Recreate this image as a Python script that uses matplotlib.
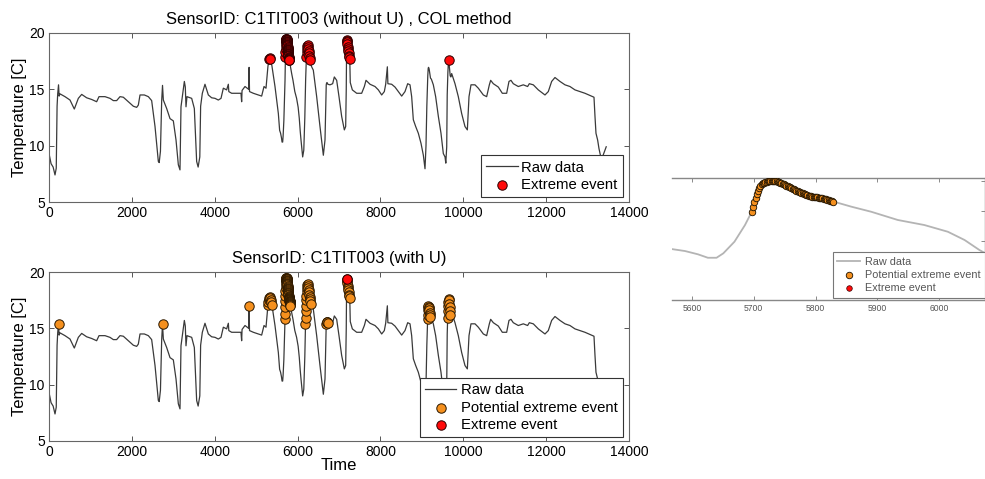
import numpy as np
import matplotlib
matplotlib.use("Agg")
import matplotlib.pyplot as plt

plt.rcParams['font.family'] = ['Liberation Sans', 'DejaVu Sans']

# ---------------- data ----------------
# raw temperature series (base readings, outside the event clusters)
raw_t = [0, 50, 100, 145, 175, 195, 210, 245, 265, 386, 507, 611, 708, 789, 909,
         1030, 1150, 1207, 1352, 1472, 1553, 1633, 1714, 1794, 1915, 2036, 2116,
         2156, 2197, 2301, 2398, 2478, 2559, 2639, 2660, 2690, 2720, 2760, 2840,
         2921, 3001, 3066, 3122, 3162, 3186, 3218, 3267, 3290, 3307, 3330, 3444,
         3508, 3564, 3600, 3640, 3660, 3701, 3765, 3846, 3926, 4007, 4087, 4152,
         4208, 4288, 4329, 4340, 4409, 4530, 4634, 4650, 4660, 4731, 4787, 4820,
         4840, 4932, 5053, 5133, 5190, 5238, 5270, 5400, 5455, 5536, 5567, 5589,
         5610, 5626, 5640, 5651, 5669, 5686, 5858, 5890, 5933, 5976, 6014, 6041,
         6065, 6083, 6123, 6150, 6175, 6340, 6380, 6461, 6541, 6622, 6662, 6783,
         6847, 6887, 6944, 7000, 7064, 7129, 7161, 7175, 7272, 7322, 7427, 7547,
         7612, 7652, 7749, 7869, 7950, 8030, 8094, 8127, 8167, 8180, 8271, 8352,
         8432, 8513, 8593, 8658, 8714, 8754, 8794, 8851, 8915, 8980, 9036, 9076,
         9100, 9120, 9230, 9277, 9333, 9398, 9462, 9518, 9559, 9578, 9600, 9612,
         9700, 9720, 9800, 9880, 9961, 10041, 10098, 10138, 10186, 10283, 10363,
         10484, 10564, 10629, 10661, 10725, 10846, 10942, 11047, 11103, 11151,
         11207, 11328, 11449, 11553, 11594, 11690, 11811, 11972, 12052, 12133,
         12213, 12334, 12455, 12575, 12696, 12817, 12937, 13058, 13155, 13179,
         13203, 13243, 13275, 13330, 13350, 13450]
raw_T = [9.3, 8.4, 8.1, 7.4, 8.0, 13.5, 14.6, 14.4, 14.6, 14.35, 14.05, 13.25, 14.2,
         14.55, 14.25, 14.1, 13.9, 14.35, 14.35, 14.2, 14.0, 14.0, 14.35, 14.3, 13.9,
         13.5, 13.4, 13.6, 14.5, 14.5, 14.35, 14.0, 11.7, 8.6, 8.5, 9.5, 14.0, 14.05,
         13.3, 12.4, 12.2, 10.5, 8.3, 7.85, 13.45, 14.35, 15.7, 15.2, 13.45, 14.35,
         14.2, 13.3, 8.6, 8.1, 9.0, 13.5, 14.65, 15.45, 14.5, 14.25, 14.2, 14.05,
         14.2, 15.1, 14.95, 15.45, 14.8, 14.65, 14.65, 14.65, 13.9, 14.9, 15.25,
         15.1, 15.0, 14.8, 14.65, 14.5, 14.4, 15.25, 15.1, 16.5, 16.6, 15.25, 12.85,
         11.36, 11.12, 10.73, 10.32, 10.32, 10.85, 12.23, 14.21, 16.39, 15.79, 14.81,
         14.21, 13.41, 12.43, 11.24, 10.5, 9.0, 9.6, 12.5, 17.0, 16.7, 14.35, 11.7,
         9.15, 10.5, 15.4, 15.5, 16.1, 15.8, 14.35, 12.6, 11.4, 11.7, 15.0, 15.6,
         14.95, 14.65, 14.65, 15.25, 15.8, 15.45, 15.25, 14.95, 14.5, 14.8, 15.45,
         17.0, 15.5, 15.45, 15.2, 14.8, 14.4, 14.8, 15.5, 15.4, 14.35, 12.3, 11.7,
         11.1, 10.2, 9.15, 7.95, 10.0, 13.5, 15.9, 15.4, 14.35, 12.6, 11.1, 9.3, 9.0,
         8.45, 9.9, 14.5, 16.1, 16.4, 15.5, 14.35, 12.85, 11.7, 11.4, 14.35, 15.4,
         15.4, 15.1, 14.5, 14.35, 15.4, 15.8, 15.5, 15.2, 14.65, 14.65, 15.7, 15.8,
         15.5, 15.25, 15.4, 15.25, 15.5, 15.4, 14.95, 14.5, 14.8, 15.7, 16.05, 15.7,
         15.4, 15.25, 14.95, 14.8, 14.65, 14.45, 14.3, 12.6, 11.1, 10.5, 9.75, 8.8,
         8.9, 9.9]

# potential extreme events (points of the raw series flagged by the method)
pot_t = [230, 2740, 4830,
         5285, 5295, 5305, 5318, 5330, 5342, 5355, 5368, 5380,
         5697, 5699, 5701, 5703, 5705, 5707, 5709, 5711, 5713, 5715, 5717, 5719,
         5721, 5723, 5725, 5727, 5729, 5731, 5733, 5735, 5737, 5739, 5741, 5743,
         5745, 5747, 5749, 5751, 5753, 5755, 5757, 5759, 5761, 5763, 5765, 5767,
         5769, 5771, 5773, 5775, 5777, 5779, 5781, 5783, 5785, 5787, 5789, 5791,
         5793, 5795, 5797, 5799, 5801, 5803, 5805, 5807, 5809, 5811, 5813, 5815,
         5817, 5819, 5821, 5823, 5825, 5827, 5829,
         6190, 6195, 6200, 6205, 6210, 6215, 6220, 6228, 6236, 6244, 6252, 6260,
         6268, 6276, 6284, 6292, 6300, 6310, 6320,
         6692, 6700, 6710, 6720, 6730,
         7185, 7192, 7198, 7205, 7212, 7220, 7228, 7236, 7244, 7252, 7260,
         9138, 9143, 9148, 9153, 9160, 9168, 9176, 9184, 9192, 9200, 9208,
         9622, 9628, 9634, 9640, 9646, 9652, 9660, 9668, 9676, 9684]
pot_T = [15.4, 15.35, 16.95,
         17.05, 17.3, 17.5, 17.65, 17.75, 17.7, 17.5, 17.3, 17.1,
         15.8, 16.3, 16.9, 17.4, 17.9, 18.3, 18.6, 18.85, 19.05, 19.17, 19.25, 19.32,
         19.37, 19.4, 19.42, 19.44, 19.45, 19.45, 19.44, 19.42, 19.39, 19.35, 19.3, 19.24,
         19.17, 19.1, 19.03, 18.97, 18.9, 18.84, 18.77, 18.69, 18.6, 18.52, 18.45, 18.37,
         18.3, 18.22, 18.16, 18.1, 18.03, 17.97, 17.92, 17.86, 17.8, 17.76, 17.72, 17.68,
         17.63, 17.6, 17.56, 17.53, 17.51, 17.49, 17.47, 17.44, 17.41, 17.38, 17.34, 17.3,
         17.26, 17.22, 17.17, 17.12, 17.08, 17.03, 17.0,
         15.4, 15.9, 16.5, 17.0, 17.5, 17.9, 18.3, 18.6, 18.85, 18.9, 18.8, 18.6,
         18.4, 18.2, 18.0, 17.8, 17.6, 17.4, 17.2,
         15.4, 15.55, 15.6, 15.55, 15.45,
         19.4, 19.3, 19.2, 19.0, 18.8, 18.6, 18.4, 18.2, 18.0, 17.85, 17.7,
         15.8, 16.2, 16.6, 16.85, 16.95, 16.9, 16.8, 16.6, 16.4, 16.2, 16.0,
         15.9, 16.5, 17.0, 17.35, 17.6, 17.5, 17.2, 16.9, 16.5, 16.2]

# extreme events when uncertainty U is used
ext_u_t = [7185]
ext_u_T = [19.4]
# without U every flagged point above this level counts as extreme
extreme_level = 17.55

x_ticks = [0, 2000, 4000, 6000, 8000, 10000, 12000, 14000]
y_ticks = [5, 10, 15, 20]
inset_x_ticks = [5600, 5700, 5800, 5900, 6000]
inset_y_ticks = [8.7, 12.27, 15.83, 19.4]

title_top = "SensorID: C1TIT003 (without U) , COL method"
title_bot = "SensorID: C1TIT003 (with U)"

# ---------------- derived series ----------------
line_t = np.array(raw_t + pot_t, dtype=float)
line_T = np.array(raw_T + pot_T, dtype=float)
order = np.argsort(line_t, kind='stable')
line_t, line_T = line_t[order], line_T[order]
pt = np.array(pot_t, dtype=float)
pT = np.array(pot_T, dtype=float)
sel = pT >= extreme_level
ext_t, ext_T = pt[sel], pT[sel]

# ---------------- figure ----------------
W, H = 985, 479
fig = plt.figure(figsize=(W / 100, H / 100), dpi=100)


def rect(l, t, r, b):
    return [l / W, 1 - b / H, (r - l) / W, (b - t) / H]


ax1 = fig.add_axes(rect(49, 33, 629, 202))
ax2 = fig.add_axes(rect(49, 272, 629, 441))
ax3 = fig.add_axes(rect(672, 178, 985, 300))

RED = '#ff0a0a'
ORANGE = '#f5901e'
LINE = '#3a3a3a'
MS = 46


def style(ax):
    ax.set_xlim(0, 14000)
    ax.set_ylim(5, 20)
    ax.set_xticks(x_ticks)
    ax.set_yticks(y_ticks)
    ax.tick_params(direction='in', top=True, right=True, length=3.5, width=0.7,
                   labelsize=10, pad=3, color='#555555', labelcolor='black')
    for s in ax.spines.values():
        s.set_color('#666666')
        s.set_linewidth(0.8)
    ax.set_ylabel('Temperature [C]', fontsize=12, labelpad=1.5)


# top panel
style(ax1)
l1, = ax1.plot(line_t, line_T, color=LINE, lw=0.9, zorder=2)
s1 = ax1.scatter(ext_t, ext_T, s=MS, c=RED, edgecolors='#2a0000', linewidths=0.7, zorder=3)
ax1.set_title(title_top, fontsize=12, pad=6.5)
leg1 = ax1.legend([l1, s1], ['Raw data', 'Extreme event'], loc='lower right',
                  bbox_to_anchor=(1 - 6 / 580, 5 / 169), borderaxespad=0,
                  fontsize=10.7, frameon=True, fancybox=False, framealpha=1,
                  edgecolor='#333333', handlelength=2.2, handletextpad=0.2,
                  borderpad=0.35, labelspacing=0.22, scatterpoints=1)
leg1.get_frame().set_linewidth(0.8)

# bottom panel
style(ax2)
l2, = ax2.plot(line_t, line_T, color=LINE, lw=0.9, zorder=2)
s2 = ax2.scatter(pt, pT, s=MS, c=ORANGE, edgecolors='#2a1800', linewidths=0.7, zorder=3)
s3 = ax2.scatter(ext_u_t, ext_u_T, s=MS, c=RED, edgecolors='#2a0000', linewidths=0.7, zorder=4)
ax2.set_title(title_bot, fontsize=12, pad=6.5)
ax2.set_xlabel('Time', fontsize=12, labelpad=-1)
leg2 = ax2.legend([l2, s2, s3], ['Raw data', 'Potential extreme event', 'Extreme event'],
                  loc='lower right', bbox_to_anchor=(1 - 6 / 580, 4 / 169), borderaxespad=0,
                  fontsize=10.7, frameon=True, fancybox=False, framealpha=1,
                  edgecolor='#333333', handlelength=2.1, handletextpad=0.3,
                  borderpad=0.35, labelspacing=0.22, scatterpoints=1)
leg2.get_frame().set_linewidth(0.8)

# zoomed inset
ax3.set_xlim(5568, 6074)
ax3.set_ylim(5.3, 19.8)
ax3.set_xticks(inset_x_ticks)
ax3.set_yticks(inset_y_ticks)
ax3.tick_params(axis='x', direction='in', top=True, bottom=True, length=3, width=0.6,
                labelsize=6.2, pad=3, color='#777777', labelcolor='#555555')
ax3.tick_params(axis='y', direction='in', left=False, right=True, labelleft=False,
                labelright=False, length=3, width=0.6, color='#777777')
ax3.spines['left'].set_visible(False)
for k in ['top', 'bottom', 'right']:
    ax3.spines[k].set_color('#888888')
    ax3.spines[k].set_linewidth(1.0)
l3, = ax3.plot(line_t, line_T, color='#b4b4b4', lw=1.3, zorder=2)
s4 = ax3.scatter(pt, pT, s=22, c=ORANGE, edgecolors='#1a1000', linewidths=0.6, zorder=3)
s5 = ax3.scatter([], [], s=16, c=RED, edgecolors='#3a0000', linewidths=0.5)
leg3 = ax3.legend([l3, s4, s5], ['Raw data', 'Potential extreme event', 'Extreme event'],
                  loc='lower right', bbox_to_anchor=(1.0, 2 / 122), borderaxespad=0,
                  fontsize=7.8, frameon=True, fancybox=False, framealpha=1,
                  edgecolor='#777777', handlelength=2.1, handletextpad=0.4,
                  borderpad=0.45, labelspacing=0.3, scatterpoints=1)
leg3.get_frame().set_linewidth(0.8)
for txt in leg3.get_texts():
    txt.set_color('#555555')

fig.savefig('out.png', dpi=100)
